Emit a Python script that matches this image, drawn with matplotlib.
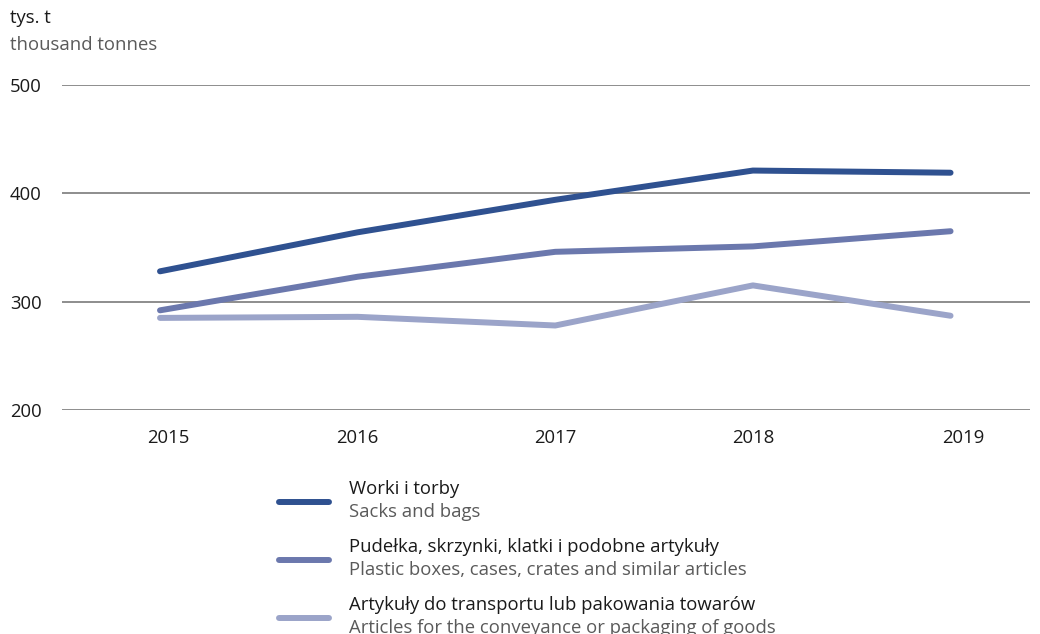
import matplotlib
matplotlib.use("Agg")
import matplotlib.pyplot as plt
from matplotlib.lines import Line2D

# data
years = [2015, 2016, 2017, 2018, 2019]
sacks_bags = [328, 364, 394, 421, 419]
boxes_cases = [292, 323, 346, 351, 365]
conveyance_goods = [285, 286, 278, 315, 287]

series_pl = ["Worki i torby",
             "Pudełka, skrzynki, klatki i podobne artykuły",
             "Artykuły do transportu lub pakowania towarów"]
series_en = ["Sacks and bags",
             "Plastic boxes, cases, crates and similar articles",
             "Articles for the conveyance or packaging of goods"]
y_ticks = [200, 300, 400, 500]

colors = ["#2f5190", "#6b78ad", "#9ba4c9"]
FONT = "Open Sans"
FS = 13.3
plt.rcParams["font.family"] = [FONT, "DejaVu Sans"]

fig = plt.figure(figsize=(10.4, 6.34), dpi=100)
ax = fig.add_axes([0.0596, 0.3533, 0.9304, 0.5127])

for vals, c in zip([sacks_bags, boxes_cases, conveyance_goods], colors):
    ax.plot(years, vals, color=c, linewidth=4.3, solid_capstyle="round",
            solid_joinstyle="round", zorder=3)

ax.set_ylim(200, 500)
ax.set_xlim(2014.504, 2019.4)
ax.set_yticks(y_ticks)
# year labels in the original sit a little off the data points at both ends
ax.set_xticks([y + d for y, d in zip(years, [0.04, 0, 0, 0, 0.065])],
              [str(y) for y in years])
ax.grid(axis="y", color="#858585", linewidth=1.3)
ax.set_axisbelow(True)
for s in ax.spines.values():
    s.set_visible(False)
ax.tick_params(axis="both", length=0, labelsize=FS, colors="#1a1a1a")
ax.tick_params(axis="y", pad=37.4)
for lbl in ax.get_yticklabels():
    lbl.set_horizontalalignment("left")
ax.tick_params(axis="x", pad=14)

fig.text(10 / 1040, 1 - 18 / 634, "tys. t", fontsize=FS, color="#1a1a1a",
         va="center", ha="left")
fig.text(10 / 1040, 1 - 45 / 634, "thousand tonnes", fontsize=FS, color="#5a5a5a",
         va="center", ha="left")

# legend drawn by hand: coloured bar + Polish line + English line
leg_y = [502, 560, 618]
for yy, c, pl, en in zip(leg_y, colors, series_pl, series_en):
    fy = 1 - yy / 634
    fig.add_artist(Line2D([279 / 1040, 329 / 1040], [fy, fy], color=c,
                          linewidth=4.3, solid_capstyle="round",
                          transform=fig.transFigure))
    fig.text(349 / 1040, 1 - (yy - 13) / 634, pl, fontsize=FS, color="#1a1a1a",
             va="center", ha="left")
    fig.text(349 / 1040, 1 - (yy + 10) / 634, en, fontsize=FS, color="#5a5a5a",
             va="center", ha="left")

fig.savefig("out.png", dpi=100)
